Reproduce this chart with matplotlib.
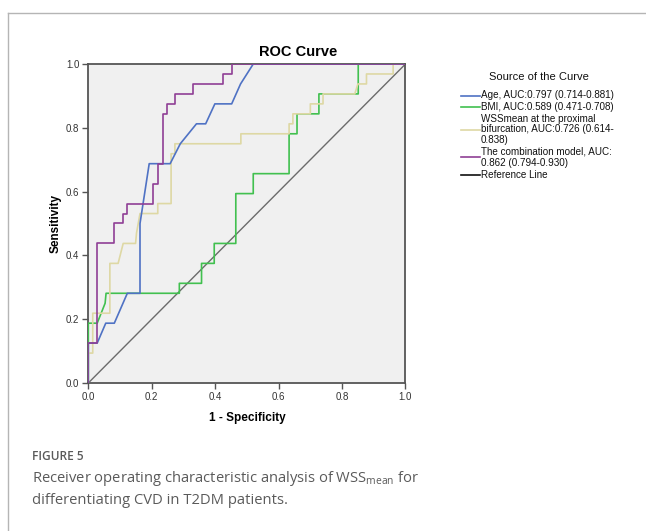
import matplotlib
matplotlib.use('Agg')
import matplotlib.pyplot as plt
from matplotlib.lines import Line2D

# ---------------- data ----------------
age_fpr = [0.0, 0.0, 0.028, 0.055, 0.082, 0.123, 0.163, 0.163, 0.192, 0.258, 0.290, 0.341, 0.370, 0.399, 0.452, 0.480, 0.520, 1.0]
age_tpr = [0.0, 0.125, 0.125, 0.1875, 0.1875, 0.28125, 0.28125, 0.50, 0.6875, 0.6875, 0.75, 0.8125, 0.8125, 0.875, 0.875, 0.9375, 1.0, 1.0]

bmi_fpr = [0.0, 0.0, 0.028, 0.053, 0.056, 0.287, 0.287, 0.357, 0.357, 0.397, 0.397, 0.465, 0.465, 0.520, 0.520, 0.633, 0.633, 0.658, 0.658, 0.727, 0.727, 0.851, 0.851, 1.0]
bmi_tpr = [0.0, 0.1875, 0.1875, 0.25, 0.28125, 0.28125, 0.3125, 0.3125, 0.375, 0.375, 0.4375, 0.4375, 0.59375, 0.59375, 0.65625, 0.65625, 0.78125, 0.78125, 0.84375, 0.84375, 0.90625, 0.90625, 1.0, 1.0]

wss_fpr = [0.0, 0.0, 0.014, 0.014, 0.068, 0.068, 0.094, 0.110, 0.149, 0.152, 0.163, 0.219, 0.219, 0.261, 0.261, 0.273, 0.273, 0.481, 0.481, 0.633, 0.633, 0.645, 0.645, 0.700, 0.700, 0.740, 0.740, 0.840, 0.850, 0.877, 0.877, 0.961, 0.961, 1.0]
wss_tpr = [0.0, 0.09375, 0.09375, 0.21875, 0.21875, 0.375, 0.375, 0.4375, 0.4375, 0.47, 0.53125, 0.53125, 0.5625, 0.5625, 0.71875, 0.71875, 0.75, 0.75, 0.78125, 0.78125, 0.8125, 0.8125, 0.84375, 0.84375, 0.875, 0.875, 0.90625, 0.90625, 0.9375, 0.9375, 0.96875, 0.96875, 1.0, 1.0]

comb_fpr = [0.0, 0.0, 0.028, 0.028, 0.081, 0.081, 0.108, 0.108, 0.123, 0.123, 0.205, 0.205, 0.220, 0.220, 0.234, 0.234, 0.247, 0.247, 0.273, 0.273, 0.329, 0.329, 0.425, 0.425, 0.454, 0.454, 1.0]
comb_tpr = [0.0, 0.125, 0.125, 0.4375, 0.4375, 0.5, 0.5, 0.53125, 0.53125, 0.5625, 0.5625, 0.625, 0.625, 0.6875, 0.6875, 0.84375, 0.84375, 0.875, 0.875, 0.90625, 0.90625, 0.9375, 0.9375, 0.96875, 0.96875, 1.0, 1.0]

ref_x = [0.0, 1.0]
ref_y = [0.0, 1.0]

ticks = [0.0, 0.2, 0.4, 0.6, 0.8, 1.0]
tick_labels = ['0.0', '0.2', '0.4', '0.6', '0.8', '1.0']

legend_labels = [
    ['Age, AUC:0.797 (0.714-0.881)'],
    ['BMI, AUC:0.589 (0.471-0.708)'],
    ['WSSmean at the proximal', 'bifurcation, AUC:0.726 (0.614-', '0.838)'],
    ['The combination model, AUC:', '0.862 (0.794-0.930)'],
    ['Reference Line'],
]

# ---------------- styling ----------------
C_AGE = '#4f72c4'
C_BMI = '#41c04f'
C_WSS = '#ded8a4'
C_COMB = '#8f3f95'
C_REF = '#6b6b6b'
legend_colors = [C_AGE, C_BMI, C_WSS, C_COMB, '#111111']

W, H = 646, 531
fig = plt.figure(figsize=(W / 100, H / 100), dpi=100)
fig.patch.set_facecolor('white')

def fx(px):
    return px / W

def fy(py):
    return 1 - py / H

SANS = ['Liberation Sans', 'DejaVu Sans']

# outer frame lines (top & left)
fig.add_artist(Line2D([fx(8), 1.0], [fy(12.5), fy(12.5)], color='#b5b5b5', lw=1.0))
fig.add_artist(Line2D([fx(8), fx(8)], [fy(12.5), 0.0], color='#b5b5b5', lw=1.0))

x0, x1, y0, y1 = 88.3, 405.5, 383.0, 64.0
ax = fig.add_axes([fx(x0), fy(y0), (x1 - x0) / W, (y0 - y1) / H])
ax.set_facecolor('#f0f0f0')

ax.plot(ref_x, ref_y, color=C_REF, lw=1.0, zorder=2)
ax.plot(bmi_fpr, bmi_tpr, color=C_BMI, lw=1.2, zorder=3)
ax.plot(wss_fpr, wss_tpr, color=C_WSS, lw=1.2, zorder=3)
ax.plot(age_fpr, age_tpr, color=C_AGE, lw=1.2, zorder=4)
ax.plot(comb_fpr, comb_tpr, color=C_COMB, lw=1.2, zorder=5)

ax.set_xlim(0, 1)
ax.set_ylim(0, 1)
ax.set_xticks(ticks)
ax.set_yticks(ticks)
ax.set_xticklabels(tick_labels, fontsize=7, color='#333333', family=SANS)
ax.set_yticklabels(tick_labels, fontsize=7, color='#333333', family=SANS)
ax.tick_params(direction='out', length=4, width=1.0, color='#555555', pad=2.5)
for s in ax.spines.values():
    s.set_color('#555555')
    s.set_linewidth(1.3)

ax.set_xlabel('1 - Specificity', fontsize=8.5, fontweight='bold', family=SANS, labelpad=7)
ax.set_ylabel('Sensitivity', fontsize=8.5, fontweight='bold', family=SANS, labelpad=3)

fig.text(fx(298), fy(51.5), 'ROC Curve', fontsize=10.5, fontweight='bold', family=SANS,
         ha='center', va='center')

# legend (drawn manually to match SPSS layout)
fig.text(fx(538.5), fy(77), 'Source of the Curve', fontsize=8, family=SANS,
         ha='center', va='center', color='#111111')
rows = [[95.5], [106.5], [119, 129.5, 140], [152, 162.5], [175]]
for labels, ys, col in zip(legend_labels, rows, legend_colors):
    for lab, yy in zip(labels, ys):
        fig.text(fx(481), fy(yy), lab, fontsize=7.1, family=SANS, ha='left', va='center',
                 color='#111111')
    ymid = sum(ys) / len(ys)
    fig.add_artist(Line2D([fx(461), fx(479.5)], [fy(ymid), fy(ymid)], color=col, lw=1.2))

# caption
plt.rcParams['mathtext.fontset'] = 'custom'
plt.rcParams['mathtext.rm'] = 'Open Sans'
plt.rcParams['mathtext.it'] = 'Open Sans'
fig.text(fx(32), fy(457), 'FIGURE 5', fontsize=8.6, family=['Open Sans', 'DejaVu Sans'],
         fontweight='semibold', color='#5a5a5a', ha='left', va='center')
fig.text(fx(32), fy(478.5), r'Receiver operating characteristic analysis of WSS$_{\mathrm{mean}}$ for',
         fontsize=10.6, family=['Open Sans', 'DejaVu Sans'], color='#5a5a5a', ha='left', va='center')
fig.text(fx(32), fy(500), 'differentiating CVD in T2DM patients.',
         fontsize=10.6, family=['Open Sans', 'DejaVu Sans'], color='#5a5a5a', ha='left', va='center')

fig.savefig('out.png', dpi=100)
